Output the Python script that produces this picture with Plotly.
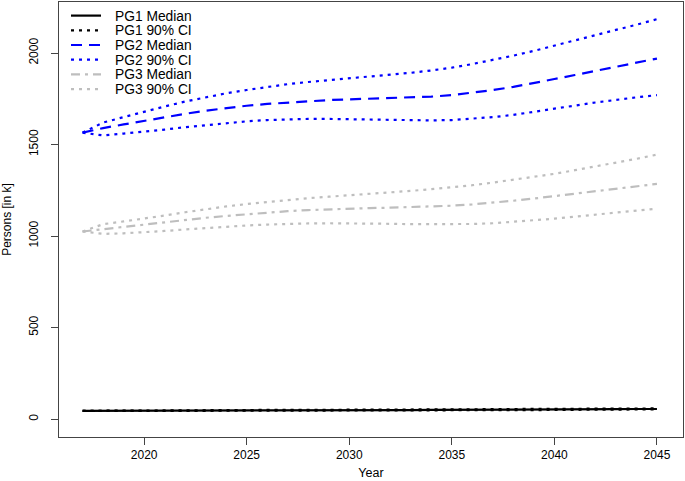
import plotly.graph_objects as go

years = list(range(2017, 2046))

pg1_median = [45, 45, 45, 45, 46, 46, 46, 47, 47, 47, 48, 48, 48, 48, 49, 49, 49, 50, 50, 51, 51, 52, 52, 53, 53, 54, 54, 55, 55]
pg1_upper = [45, 46, 46, 47, 47, 48, 48, 49, 49, 50, 50, 50, 51, 51, 51, 52, 52, 53, 53, 54, 54, 55, 55, 56, 56, 57, 57, 58, 58]
pg1_lower = [45, 44, 44, 44, 44, 45, 45, 45, 45, 45, 46, 46, 46, 46, 46, 47, 47, 47, 47, 48, 48, 49, 49, 50, 50, 51, 51, 52, 53]

pg2_median = [1565, 1590, 1610, 1630, 1650, 1668, 1685, 1700, 1712, 1722, 1730, 1738, 1743, 1747, 1750,
              1753, 1757, 1762, 1770, 1782, 1798, 1815, 1835, 1858, 1880, 1902, 1925, 1948, 1970]
pg2_upper = [1565, 1620, 1650, 1680, 1708, 1735, 1758, 1780, 1798, 1815, 1830, 1842, 1852, 1860, 1870,
             1880, 1892, 1905, 1920, 1940, 1962, 1986, 2012, 2040, 2068, 2097, 2125, 2155, 2185]
pg2_lower = [1565, 1550, 1560, 1570, 1582, 1595, 1607, 1618, 1627, 1634, 1638, 1640, 1640, 1638, 1636,
             1634, 1632, 1632, 1634, 1640, 1650, 1662, 1678, 1697, 1713, 1730, 1745, 1758, 1770]

pg3_median = [1025, 1038, 1050, 1062, 1075, 1088, 1100, 1110, 1120, 1128, 1136, 1142, 1147, 1150, 1153,
              1155, 1158, 1161, 1166, 1173, 1182, 1193, 1205, 1218, 1232, 1245, 1258, 1272, 1285]
pg3_upper = [1025, 1065, 1080, 1095, 1112, 1130, 1147, 1162, 1175, 1187, 1198, 1207, 1215, 1222, 1230,
             1238, 1247, 1256, 1266, 1278, 1292, 1307, 1323, 1340, 1360, 1380, 1400, 1422, 1445]
pg3_lower = [1025, 1012, 1015, 1020, 1028, 1036, 1044, 1052, 1058, 1063, 1067, 1069, 1070, 1070, 1069,
             1067, 1065, 1064, 1064, 1066, 1070, 1077, 1085, 1095, 1106, 1118, 1130, 1140, 1150]

x_ticks = [2020, 2025, 2030, 2035, 2040, 2045]
y_ticks = [0, 500, 1000, 1500, 2000]

legend_labels = ["PG1 Median", "PG1 90% CI", "PG2 Median", "PG2 90% CI", "PG3 Median", "PG3 90% CI"]

BLACK = "#000000"
BLUE = "#0000FF"
GRAY = "#BEBEBE"
DOT = "3px,5px"
LONG = "11px,7px"
DASHDOT = "9px,5px,3px,5px"
legend_styles = [(BLACK, "solid"), (BLACK, DOT), (BLUE, LONG), (BLUE, DOT), (GRAY, DASHDOT), (GRAY, DOT)]

fig = go.Figure()

def add(y, name, color, dash, width=2.2):
    fig.add_trace(go.Scatter(x=years, y=y, mode="lines", name=name,
                             line=dict(color=color, dash=dash, width=width),
                             showlegend=False))

add(pg1_median, "PG1 Median", BLACK, "solid")
add(pg1_upper, "PG1 90% CI", BLACK, DOT)
add(pg1_lower, "PG1 90% CI", BLACK, DOT)
add(pg2_median, "PG2 Median", BLUE, LONG)
add(pg2_upper, "PG2 90% CI", BLUE, DOT)
add(pg2_lower, "PG2 90% CI", BLUE, DOT)
add(pg3_median, "PG3 Median", GRAY, DASHDOT)
add(pg3_upper, "PG3 90% CI", GRAY, DOT)
add(pg3_lower, "PG3 90% CI", GRAY, DOT)

# Legend drawn manually (R-style compact legend), positions in plot-area paper coords
L, R_, T, B = 59, 683, 2, 437
W, H = R_ - L, B - T
def px(xp):
    return (xp - L) / W
def py(yp):
    return (B - yp) / H

row_y = [15.6, 30.3, 45.0, 59.7, 74.4, 89.1]
for lbl, (col, dsh), ry in zip(legend_labels, legend_styles, row_y):
    fig.add_shape(type="line", xref="paper", yref="paper",
                  x0=px(71), x1=px(101), y0=py(ry), y1=py(ry),
                  line=dict(color=col, dash=dsh, width=2.2))
    fig.add_annotation(xref="paper", yref="paper", x=px(113), y=py(ry),
                       xanchor="left", yanchor="middle", text=lbl, showarrow=False,
                       height=14, valign="middle",
                       font=dict(size=13.8, color="black"))

fig.update_layout(
    width=685, height=481,
    margin=dict(l=L, r=685 - R_, t=T, b=481 - B),
    plot_bgcolor="white", paper_bgcolor="white",
    font=dict(family="Liberation Sans, Arial, sans-serif", size=12, color="black"),
    showlegend=False,
    xaxis=dict(range=[2015.85, 2046.27], tickvals=x_ticks, showgrid=False, zeroline=False,
               showline=True, mirror=True, linecolor="#444", linewidth=1,
               ticks="outside", ticklen=7, tickcolor="#444", automargin=False,
               ticklabelstandoff=0,
               title=dict(text="Year", standoff=6, font=dict(size=12.5)), tickfont=dict(size=12)),
    yaxis=dict(range=[-98, 2279], tickvals=y_ticks, showgrid=False, zeroline=False,
               showline=True, mirror=True, linecolor="#444", linewidth=1,
               ticks="outside", ticklen=7, tickcolor="#444", tickangle=-90,
               automargin=False, ticklabelstandoff=8,
               title=dict(text="Persons [in k]", standoff=14, font=dict(size=12)), tickfont=dict(size=12)),
)

fig.write_html("out.html", config={"displayModeBar": False},
               post_script="document.body.style.margin='0';document.body.style.overflow='hidden';")
